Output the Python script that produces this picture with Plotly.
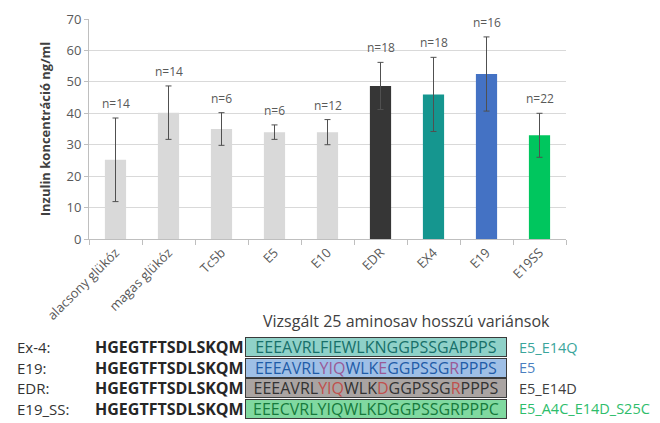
import plotly.graph_objects as go

# ---------------- data ----------------
categories = ["alacsony glükóz", "magas glükóz", "Tc5b", "E5", "E10", "EDR", "EX4", "E19", "E19SS"]
means = [25.2, 40.2, 35.0, 34.0, 34.0, 48.7, 46.0, 52.5, 33.0]
errors = [13.3, 8.5, 5.2, 2.3, 4.0, 7.5, 11.8, 11.8, 7.0]
n_labels = ["n=14", "n=14", "n=6", "n=6", "n=12", "n=18", "n=18", "n=16", "n=22"]
bar_colors = ["#d9d9d9", "#d9d9d9", "#d9d9d9", "#d9d9d9", "#d9d9d9",
              "#363636", "#15968f", "#4472c4", "#00c65e"]
y_ticks = [0, 10, 20, 30, 40, 50, 60, 70]

seq_names = ["Ex-4:", "E19:", "EDR:", "E19_SS:"]
seq_prefix = "HGEGTFTSDLSKQM"
seq_variants = ["EEEAVRLFIEWLKNGGPSSGAPPPS",
                "EEEAVRLYIQWLKEGGPSSGRPPPS",
                "EEEAVRLYIQWLKDGGPSSGRPPPS",
                "EEECVRLYIQWLKDGGPSSGRPPPC"]
# positions (0-based) of residues that are highlighted in another colour
seq_highlight = [[], [7, 8, 9, 13, 20], [7, 8, 9, 13, 20], []]
seq_right_labels = ["E5_E14Q", "E5", "E5_E14D", "E5_A4C_E14D_S25C"]
subtitle = "Vizsgált 25 aminosav hosszú variánsok"
y_title = "Inzulin koncentráció ng/ml"

# ---------------- styles ----------------
box_bg = ["#8fd1c8", "#9fbfe6", "#aaa4a2", "#80d9a0"]
box_text = ["#17706a", "#1f5ca8", "#333333", "#167a3c"]
box_hl = ["#17706a", "#9a5a96", "#c0504d", "#167a3c"]
right_colors = ["#3aa59b", "#4a7fbf", "#404040", "#2ebd6b"]
FONT = "Open Sans"

W, H = 660, 423
L, R, T, B = 81, 102, 11, 192
PW, PH = W - L - R, H - T - B


def px(x):
    return (x - L) / PW


def py(y):
    return (H - B - y) / PH


fig = go.Figure()
fig.add_trace(go.Bar(
    x=categories, y=means,
    marker=dict(color=bar_colors, line=dict(width=0)),
    error_y=dict(type="data", array=errors, color="#505050", thickness=1, width=3),
    width=0.4,
    hoverinfo="skip",
))

annotations = []
for c, m, e, t in zip(categories, means, errors, n_labels):
    annotations.append(dict(x=c, y=m + e, text=t, showarrow=False, yanchor="bottom",
                            yshift=4, font=dict(size=12, color="#595959", family=FONT)))

# subtitle
annotations.append(dict(x=px(253), y=py(313), xref="paper", yref="paper", text=subtitle,
                        showarrow=False, xanchor="left", yanchor="middle",
                        font=dict(size=16, color="#404040", family=FONT)))

row_y = [339, 359.5, 380, 400.5]
BOX_X0, BOX_W = 237, 260
for i in range(len(seq_names)):
    yy = py(row_y[i])
    annotations.append(dict(x=px(7), y=yy, xref="paper", yref="paper", text=seq_names[i],
                            showarrow=False, xanchor="left", yanchor="middle",
                            font=dict(size=15, color="#333333", family=FONT)))
    annotations.append(dict(x=px(BOX_X0), y=yy, xref="paper", yref="paper",
                            text="<b>" + seq_prefix + "</b>",
                            showarrow=False, xanchor="right", yanchor="middle", borderpad=0,
                            font=dict(size=16, color="#262626", family=FONT)))
    parts = []
    for k, ch in enumerate(seq_variants[i]):
        col = box_hl[i] if k in seq_highlight[i] else box_text[i]
        parts.append("<span style='color:%s'>%s</span>" % (col, ch))
    annotations.append(dict(x=px(BOX_X0), y=yy, xref="paper", yref="paper", text="".join(parts),
                            showarrow=False, xanchor="left", yanchor="middle",
                            width=BOX_W, height=18, align="center", valign="middle",
                            bgcolor=box_bg[i], bordercolor="#3a3a3a", borderwidth=1, borderpad=0,
                            font=dict(size=16, color=box_text[i], family=FONT)))
    annotations.append(dict(x=px(509), y=yy, xref="paper", yref="paper", text=seq_right_labels[i],
                            showarrow=False, xanchor="left", yanchor="middle",
                            font=dict(size=14.5, color=right_colors[i], family=FONT)))

fig.update_layout(
    width=W, height=H,
    margin=dict(l=L, r=R, t=T, b=B, autoexpand=False),
    paper_bgcolor="white", plot_bgcolor="white",
    showlegend=False,
    bargap=0.6,
    font=dict(family=FONT, color="#595959"),
    xaxis=dict(
        type="category", tickangle=-45, tickson="boundaries", ticks="outside", ticklen=5,
        tickcolor="#bfbfbf", showline=True, linecolor="#bfbfbf", linewidth=1,
        tickfont=dict(size=13, color="#595959"), showgrid=False,
    ),
    yaxis=dict(
        range=[0, 70], tickvals=y_ticks, ticks="outside", ticklen=4, tickcolor="#bfbfbf",
        showline=True, linecolor="#bfbfbf", linewidth=1, gridcolor="#d9d9d9", gridwidth=1,
        tickfont=dict(size=13, color="#595959"), zeroline=False,
        title=dict(text="<b>" + y_title + "</b>", font=dict(size=13, color="#404040"), standoff=12),
    ),
    annotations=annotations,
)

fig.write_html("out.html")
